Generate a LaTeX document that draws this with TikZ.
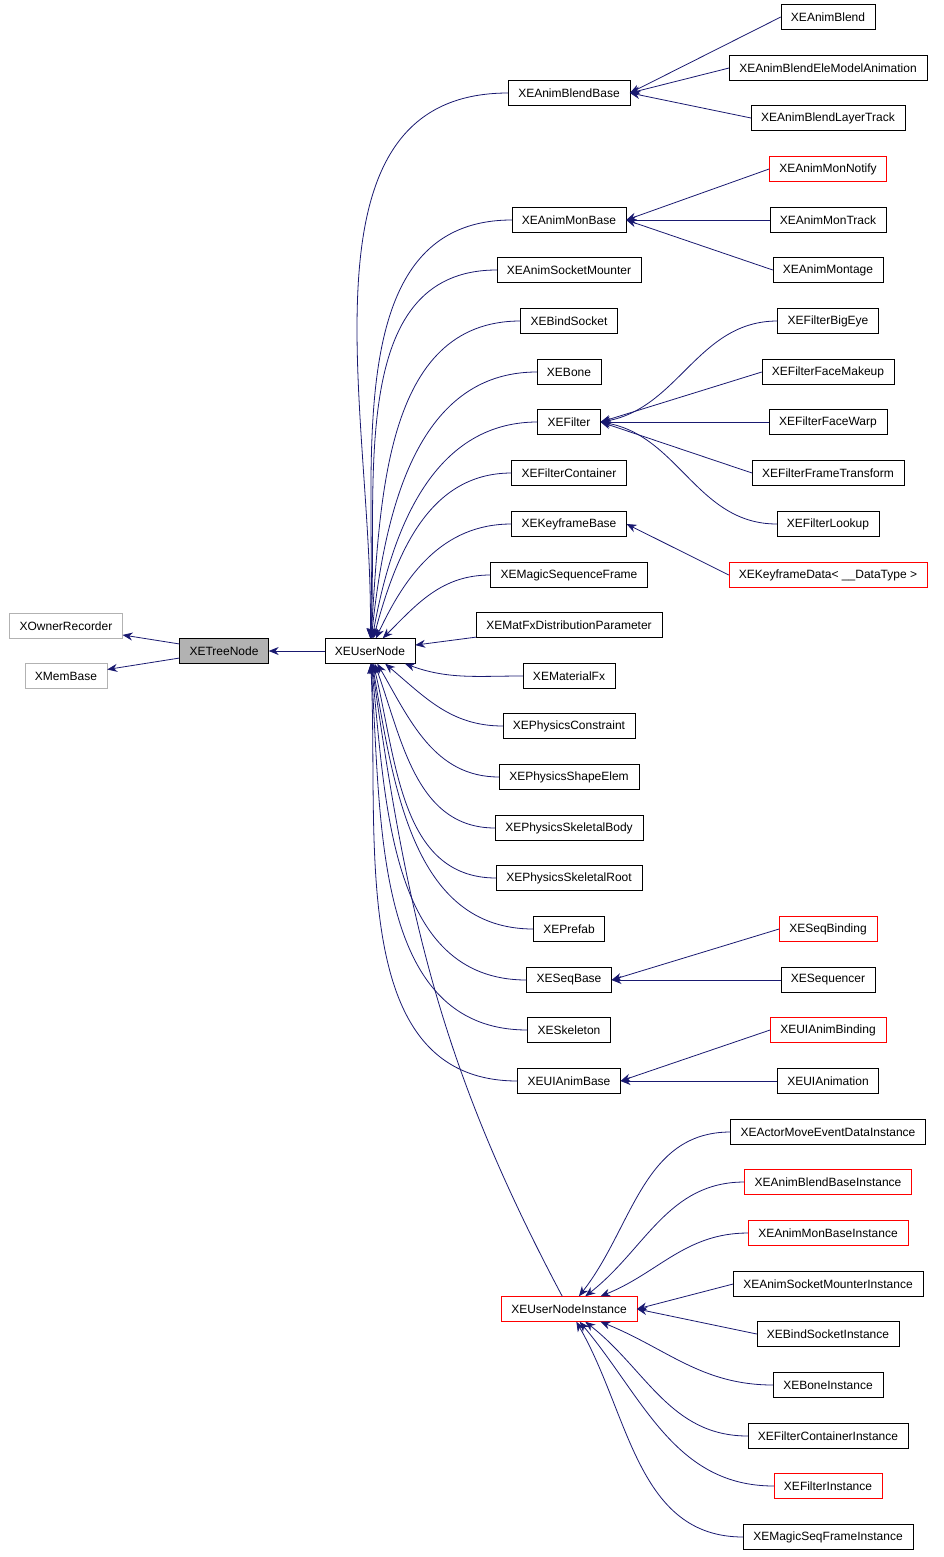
\documentclass[tikz,border=0pt]{standalone}
\usepackage{fontspec}
\setmainfont{Liberation Sans}
\usetikzlibrary{arrows.meta}
\definecolor{navy}{HTML}{191970}
\begin{document}
\begin{tikzpicture}[x=1pt,y=-1pt,
  b/.style={draw=black,fill=white,minimum height=25pt,inner xsep=10pt,inner ysep=0pt,font=\fontsize{12}{14}\selectfont},
  r/.style={b,draw=red},
  g/.style={b,draw=gray!60},
  inh/.style={draw=navy,line width=0.8pt,{Stealth[length=10pt,width=8pt]}-}]
\useasboundingbox (0,0) rectangle (943,1557);
\node[g] (or) at (66,626) {XOwnerRecorder};
\node[g] (mb) at (66,676) {XMemBase};
\node[b,fill=gray!60] (tn) at (224,651) {XETreeNode};
\node[b] (un) at (370,651) {XEUserNode};
\draw[inh] (or) -- (tn);
\draw[inh] (mb) -- (tn);
\draw[inh] (tn) -- (un);
% middle column
\foreach \n/\t/\y/\a in {
 abb/XEAnimBlendBase/93/89, amb/XEAnimMonBase/220/88, asm/XEAnimSocketMounter/270/87,
 bs/XEBindSocket/321/86, bo/XEBone/372/84, fi/XEFilter/422/80, fc/XEFilterContainer/473/75,
 kb/XEKeyframeBase/524/65, ms/XEMagicSequenceFrame/575/45, mf/XEMaterialFx/676/-20,
 pc/XEPhysicsConstraint/726/-40, pse/XEPhysicsShapeElem/777/-60, psb/XEPhysicsSkeletalBody/828/-70,
 psr/XEPhysicsSkeletalRoot/878/-76, pf/XEPrefab/929/-80, sb/XESeqBase/980/-84,
 sk/XESkeleton/1030/-86, uab/XEUIAnimBase/1081/-87}{
  \node[b] (\n) at (569,\y) {\t};
  \draw[inh] (un) to[out=\a,in=180] (\n.west);
}
\node[b] (mfd) at (569,625) {XEMatFxDistributionParameter};
\draw[inh] (un) -- (mfd);
\node[r] (uni) at (569,1309) {XEUserNodeInstance};
\draw[inh] (un) to[out=-82,in=118] (uni);
% right column
\foreach \n/\t/\y/\s/\p in {
 r1/XEAnimBlend/17/b/abb, r2/XEAnimBlendEleModelAnimation/68/b/abb, r3/XEAnimBlendLayerTrack/118/b/abb,
 r4/XEAnimMonNotify/169/r/amb, r5/XEAnimMonTrack/220/b/amb, r6/XEAnimMontage/270/b/amb,
 r8/XEFilterFaceMakeup/372/b/fi, r9/XEFilterFaceWarp/422/b/fi, r10/XEFilterFrameTransform/473/b/fi,
 r12/{XEKeyframeData< \_\_DataType >}/575/r/kb,
 r13/XESeqBinding/929/r/sb, r14/XESequencer/980/b/sb,
 r15/XEUIAnimBinding/1030/r/uab, r16/XEUIAnimation/1081/b/uab,
 i4/XEAnimSocketMounterInstance/1284/b/uni, i5/XEBindSocketInstance/1334/b/uni}{
  \node[\s] (\n) at (828,\y) {\t};
  \draw[inh] (\p.east) -- (\n.west);
}
\node[b] (r7) at (828,321) {XEFilterBigEye};
\draw[inh] (fi.east) to[out=10,in=180] (r7.west);
\node[b] (r11) at (828,524) {XEFilterLookup};
\draw[inh] (fi.east) to[out=-10,in=180] (r11.west);
\foreach \n/\t/\y/\s/\a in {
 i1/XEActorMoveEventDataInstance/1132/b/52, i2/XEAnimBlendBaseInstance/1182/r/38, i3/XEAnimMonBaseInstance/1233/r/22,
 i6/XEBoneInstance/1385/b/-22, i7/XEFilterContainerInstance/1436/b/-38, i8/XEFilterInstance/1486/r/-50,
 i9/XEMagicSeqFrameInstance/1537/b/-60}{
  \node[\s] (\n) at (828,\y) {\t};
  \draw[inh] (uni) to[out=\a,in=180] (\n.west);
}
\end{tikzpicture}
\end{document}
